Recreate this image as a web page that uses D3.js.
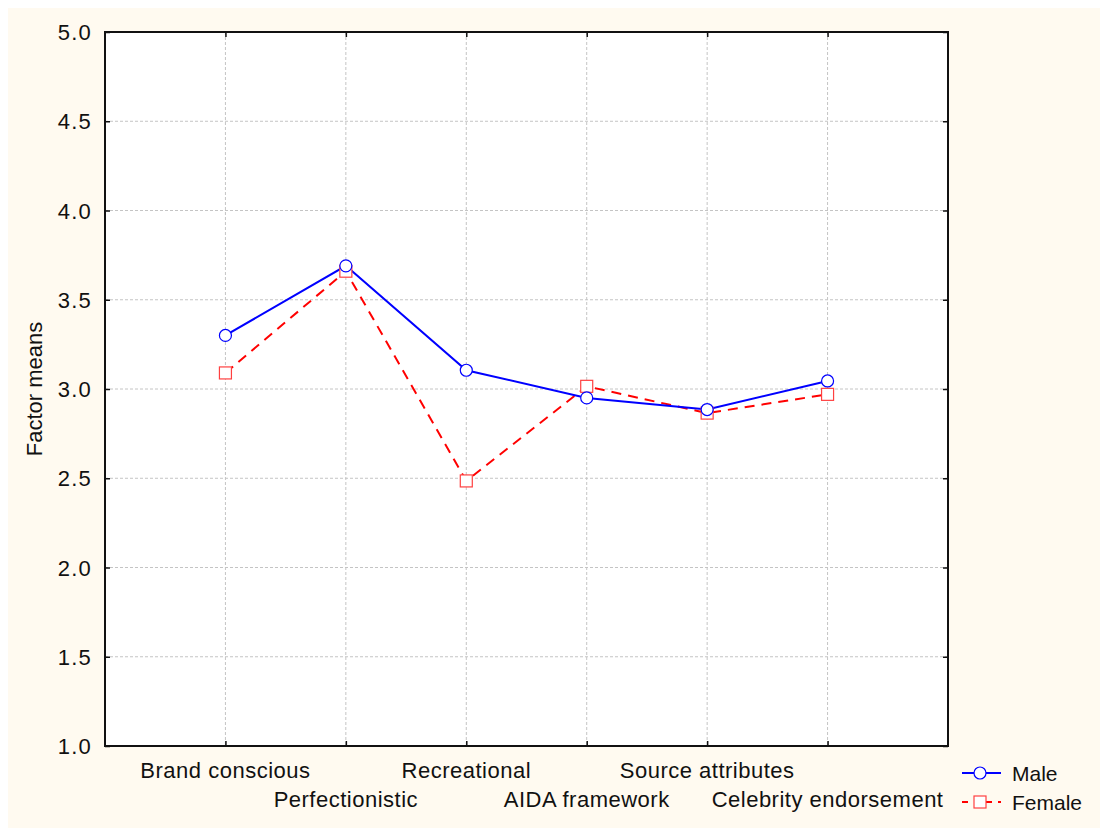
<!DOCTYPE html>
<html><head><meta charset="utf-8">
<script src="https://cdn.jsdelivr.net/npm/d3@7"></script>
<style>body{margin:0;background:#fff}svg{display:block}text{font-family:"Liberation Sans",Arial,sans-serif;fill:#111}</style>
</head><body>
<svg id="c" width="1100" height="828"></svg>
<script>
const categories = ["Brand conscious","Perfectionistic","Recreational","AIDA framework","Source attributes","Celebrity endorsement"];
const maleValues = [3.30, 3.69, 3.105, 2.95, 2.885, 3.045];
const femaleValues = [3.09, 3.66, 2.485, 3.015, 2.865, 2.97];
const yTicks = [1.0,1.5,2.0,2.5,3.0,3.5,4.0,4.5,5.0];
const seriesNames = ["Male","Female"];

const svg = d3.select("#c");
svg.append("rect").attr("x",8).attr("y",8).attr("width",1092).attr("height",820).attr("fill","#fffaf0");

const L=105,R=948,T=32,B=746;
const x = d3.scalePoint().domain(["_s",...categories,"_e"]).range([L,R]);
const y = d3.scaleLinear().domain([1,5]).range([B,T]);

svg.append("rect").attr("x",L).attr("y",T).attr("width",R-L).attr("height",B-T).attr("fill","#fff");

// grid
const g = svg.append("g");
g.selectAll("line.h").data(yTicks.slice(1,-1)).join("line")
 .attr("x1",L).attr("x2",R).attr("y1",d=>y(d)).attr("y2",d=>y(d))
 .attr("stroke","#c4c4c4").attr("stroke-width",1).attr("stroke-dasharray","3,2");
g.selectAll("line.v").data(categories).join("line")
 .attr("x1",d=>x(d)).attr("x2",d=>x(d)).attr("y1",T).attr("y2",B)
 .attr("stroke","#c4c4c4").attr("stroke-width",1).attr("stroke-dasharray","3,2");

// axes
const fmt = d3.format(".1f");
const yAx = svg.append("g").attr("transform",`translate(${L},0)`)
 .call(d3.axisLeft(y).tickValues(yTicks).tickFormat(fmt).tickSize(-5).tickPadding(13));
yAx.selectAll("text").style("font-size","22px").style("letter-spacing","1.2px").attr("fill","#111").attr("dy","0.35em");
const yAxR = svg.append("g").attr("transform",`translate(${R},0)`)
 .call(d3.axisRight(y).tickValues(yTicks).tickSize(-5).tickFormat(""));
const xAx = svg.append("g").attr("transform",`translate(0,${B})`)
 .call(d3.axisBottom(x).tickValues(categories).tickSize(-5).tickFormat(""));
const xAxT = svg.append("g").attr("transform",`translate(0,${T})`)
 .call(d3.axisTop(x).tickValues(categories).tickSize(-5).tickFormat(""));
[yAx,yAxR,xAx,xAxT].forEach(a=>{a.select(".domain").remove();a.selectAll(".tick line").attr("stroke","#111").attr("stroke-width",1.5);});
svg.append("rect").attr("x",L).attr("y",T).attr("width",R-L).attr("height",B-T)
 .attr("fill","none").attr("stroke","#111").attr("stroke-width",2);

// category labels, alternating rows
svg.append("g").selectAll("text").data(categories).join("text")
 .attr("x",d=>x(d)).attr("y",(d,i)=> i%2===0 ? 778 : 807)
 .attr("text-anchor","middle").style("font-size","22px").style("letter-spacing","0.5px").text(d=>d);

// y title
svg.append("text").attr("transform","translate(42,389) rotate(-90)")
 .attr("text-anchor","middle").style("font-size","22px").text("Factor means");

// lines
const line = d3.line().x((d,i)=>x(categories[i])).y(d=>y(d));
svg.append("path").datum(femaleValues).attr("d",line).attr("fill","none")
 .attr("stroke","#ff0000").attr("stroke-width",2).attr("stroke-dasharray","10,7");
svg.append("path").datum(maleValues).attr("d",line).attr("fill","none")
 .attr("stroke","#0000ff").attr("stroke-width",2);
svg.append("g").selectAll("rect").data(femaleValues).join("rect")
 .attr("x",(d,i)=>x(categories[i])-6).attr("y",d=>y(d)-6).attr("width",12).attr("height",12)
 .attr("fill","#fff").attr("stroke","#ff4040").attr("stroke-width",1.2);
svg.append("g").selectAll("circle").data(maleValues).join("circle")
 .attr("cx",(d,i)=>x(categories[i])).attr("cy",d=>y(d)).attr("r",6)
 .attr("fill","#fff").attr("stroke","#0000ff").attr("stroke-width",1.2);

// legend
const lg = svg.append("g");
lg.append("line").attr("x1",962).attr("x2",1001).attr("y1",773).attr("y2",773).attr("stroke","#0000ff").attr("stroke-width",2);
lg.append("circle").attr("cx",980).attr("cy",773).attr("r",6).attr("fill","#fff").attr("stroke","#0000ff").attr("stroke-width",1.2);
lg.append("line").attr("x1",962).attr("x2",1001).attr("y1",802).attr("y2",802).attr("stroke","#ff0000").attr("stroke-width",2).attr("stroke-dasharray","6,9,0,9,6");
lg.append("rect").attr("x",974).attr("y",796).attr("width",12).attr("height",12).attr("fill","#fff").attr("stroke","#ff4040").attr("stroke-width",1.2);
lg.selectAll("text").data(seriesNames).join("text")
 .attr("x",1012).attr("y",(d,i)=>781+i*29).style("font-size","21px").text(d=>d);
</script>
</body></html>
